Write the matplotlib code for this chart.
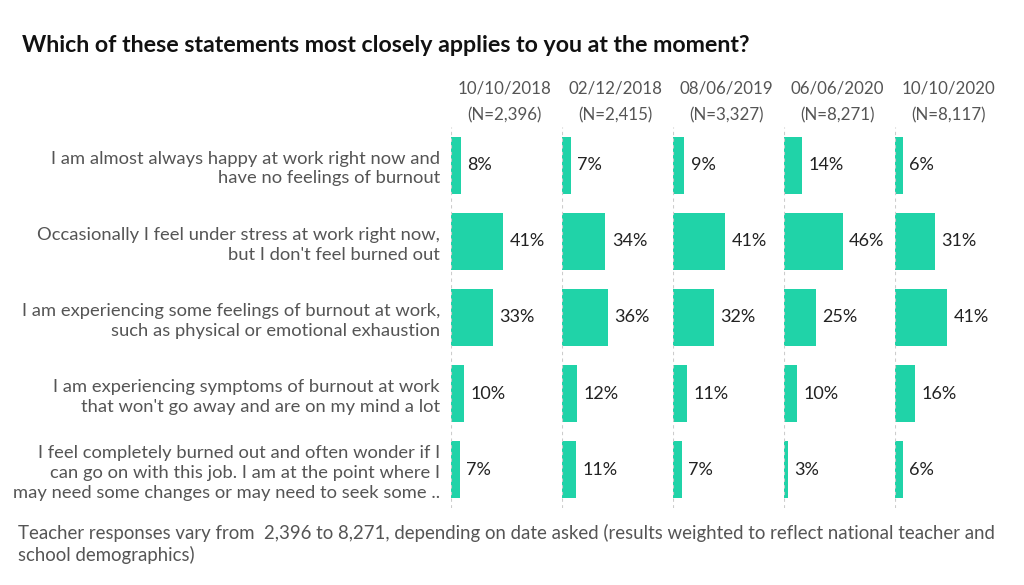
import numpy as np
import matplotlib.pyplot as plt

plt.rcParams['font.family'] = ['Lato', 'DejaVu Sans']

statements = [
    "I am almost always happy at work right now and\nhave no feelings of burnout",
    "Occasionally I feel under stress at work right now,\nbut I don't feel burned out",
    "I am experiencing some feelings of burnout at work,\nsuch as physical or emotional exhaustion",
    "I am experiencing symptoms of burnout at work\nthat won't go away and are on my mind a lot",
    "I feel completely burned out and often wonder if I\ncan go on with this job. I am at the point where I\nmay need some changes or may need to seek some ..",
]
dates = ["10/10/2018", "02/12/2018", "08/06/2019", "06/06/2020", "10/10/2020"]
sizes = ["(N=2,396)", "(N=2,415)", "(N=3,327)", "(N=8,271)", "(N=8,117)"]
values = [
    [8, 41, 33, 10, 7],
    [7, 34, 36, 12, 11],
    [9, 41, 32, 11, 7],
    [14, 46, 25, 10, 3],
    [6, 31, 41, 16, 6],
]

W, H = 1024, 585
fig = plt.figure(figsize=(W / 100, H / 100), dpi=100)

bar_color = "#20d3a8"
grey = "#555555"

top, bottom = 127, 508
panel_w = 111
y = np.arange(len(statements))

for i, (d, n, vals) in enumerate(zip(dates, sizes, values)):
    left = 451 + i * panel_w
    ax = fig.add_axes([left / W, 1 - bottom / H, panel_w / W, (bottom - top) / H])
    ax.barh(y, vals, height=0.75, color=bar_color)
    for yi, v in zip(y, vals):
        ax.text(v + 5, yi, f"{v}%", va="center", ha="left", fontsize=13, color="#222222")
    ax.axvline(0, color="#cccccc", lw=0.8, ls=(0, (3, 3)))
    ax.set_xlim(0, 87)
    ax.set_ylim(len(statements) - 0.5, -0.5)
    for s in ax.spines.values():
        s.set_visible(False)
    ax.set_xticks([])
    if i == 0:
        ax.set_yticks(y)
        ax.set_yticklabels(statements, fontsize=13.25, color=grey, linespacing=1.3)
        ax.tick_params(axis="y", length=0, pad=8)
    else:
        ax.set_yticks([])
    ax.text(0.48, 1.0 + 38 / (bottom - top), d, transform=ax.transAxes,
            ha="center", va="center", fontsize=12.2, color=grey)
    ax.text(0.48, 1.0 + 12 / (bottom - top), n, transform=ax.transAxes,
            ha="center", va="center", fontsize=12.2, color=grey)

fig.text(22 / W, 1 - 45 / H, "Which of these statements most closely applies to you at the moment?",
         fontsize=16.7, fontweight="bold", color="#111111", va="center")
fig.text(18 / W, 1 - 544 / H,
         "Teacher responses vary from  2,396 to 8,271, depending on date asked (results weighted to reflect national teacher and\nschool demographics)",
         fontsize=13.4, color=grey, va="center", linespacing=1.25)

fig.savefig("out.png", dpi=100)
